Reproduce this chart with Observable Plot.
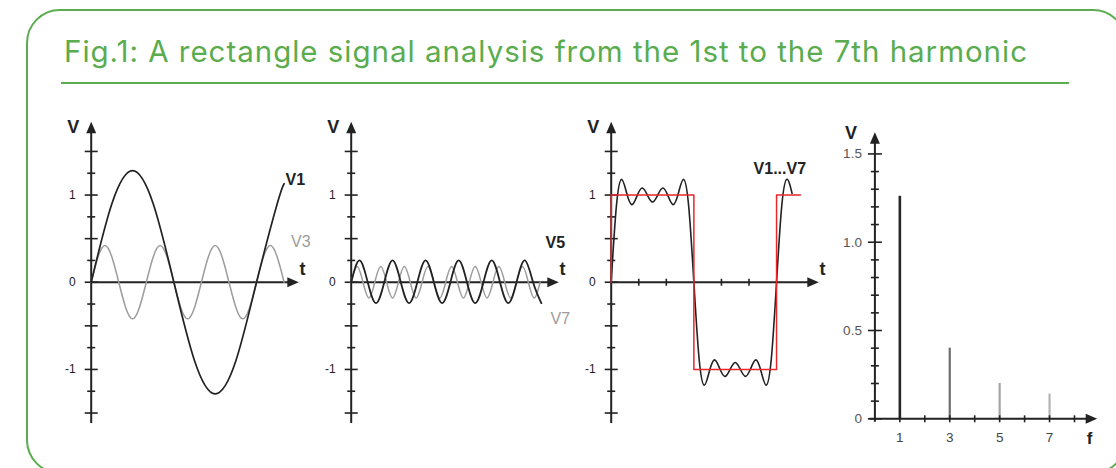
<!DOCTYPE html>
<html><head><meta charset="utf-8">
<script src="https://cdn.jsdelivr.net/npm/d3@7"></script>
<script src="https://cdn.jsdelivr.net/npm/@observablehq/plot@0.6"></script>
<style>
body{margin:0;background:#fff;}
#root{position:relative;width:1116px;height:468px;overflow:hidden;background:#fff;}
#frame{position:absolute;left:26px;top:9px;width:1097px;height:461px;border:2.5px solid #5aac4e;border-radius:34px;}
#title{position:absolute;left:64px;top:35px;font-family:Inter,sans-serif;font-weight:400;font-size:29.5px;line-height:32px;color:#5aac4e;white-space:nowrap;}
#rule{position:absolute;left:61px;top:81.5px;width:1008px;height:2.5px;background:#5aac4e;}
.panel{position:absolute;top:100px;}
</style></head>
<body>
<div id="root">
  <div id="frame"></div>
  <div id="title"></div>
  <div id="rule"></div>
  <div class="panel" id="p1" style="left:40px"></div>
  <div class="panel" id="p2" style="left:300px"></div>
  <div class="panel" id="p3" style="left:560px"></div>
  <div class="panel" id="p4" style="left:820px"></div>
</div>
<script>
// ---------- data (t in degrees of the fundamental) ----------
const titleText = "Fig.1: A rectangle signal analysis from the 1st to the 7th harmonic";

const v1T = [0, 45, 90, 135, 180, 225, 270, 315, 360, 405, 420];
const v1V = [0, 0.90, 1.28, 0.90, 0, -0.90, -1.28, -0.90, 0, 0.90, 1.13];

const v3T = [0, 30, 60, 90, 120, 150, 180, 210, 240, 270, 300, 330, 360, 390, 420];
const v3V = [0, 0.42, 0, -0.42, 0, 0.42, 0, -0.42, 0, 0.42, 0, -0.42, 0, 0.42, 0];

const v5T = [0, 18, 36, 54, 72, 90, 108, 126, 144, 162, 180, 198, 216, 234, 252, 270, 288, 306, 324, 342, 360, 378, 396, 414];
const v5V = [0, 0.25, 0, -0.24, 0, 0.25, 0, -0.24, 0, 0.25, 0, -0.24, 0, 0.25, 0, -0.24, 0, 0.25, 0, -0.24, 0, 0.25, 0, -0.24];

const v7T = [0, 12.9, 25.7, 38.6, 51.4, 64.3, 77.1, 90, 102.9, 115.7, 128.6, 141.4, 154.3, 167.1, 180, 192.9, 205.7, 218.6, 231.4, 244.3, 257.1, 270, 282.9, 295.7, 308.6, 321.4, 334.3, 347.1, 360, 372.9, 385.7, 398.6, 411.4];
const v7V = [0, 0.18, 0, -0.18, 0, 0.18, 0, -0.18, 0, 0.18, 0, -0.18, 0, 0.18, 0, -0.18, 0, 0.18, 0, -0.18, 0, 0.18, 0, -0.18, 0, 0.18, 0, -0.18, 0, 0.18, 0, -0.18, 0];

const sumT = [0, 11.25, 22.5, 33.75, 45, 56.25, 67.5, 78.75, 90, 101.25, 112.5, 123.75, 135, 146.25, 157.5, 168.75, 180,
  191.25, 202.5, 213.75, 225, 236.25, 247.5, 258.75, 270, 281.25, 292.5, 303.75, 315, 326.25, 337.5, 348.75, 360,
  371.25, 382.5, 393.75];
const sumV = [0, 0.87, 1.18, 1.02, 0.89, 0.99, 1.08, 1.00, 0.92, 1.00, 1.08, 0.99, 0.89, 1.02, 1.18, 0.87, 0,
  -0.87, -1.18, -1.02, -0.89, -0.99, -1.08, -1.00, -0.92, -1.00, -1.08, -0.99, -0.89, -1.02, -1.18, -0.87, 0,
  0.87, 1.18, 1.02];

const squareT = [0, 0, 180, 180, 360, 360, 412];
const squareV = [0, 1, 1, -1, -1, 1, 1];

const harmonics = [1, 3, 5, 7];
const amplitudes = [1.26, 0.40, 0.20, 0.14];

const waveTickLabels = [-1, 0, 1];
const waveMajorTicks = [-1.5, -1, -0.5, 0, 0.5, 1, 1.5];
const waveMinorTicks = [-1.25, -0.75, -0.25, 0.25, 0.75, 1.25];
const stepTicksX = [60, 120, 240, 300];
const specTickLabelsY = [0, 0.5, 1, 1.5];
const specMajorTicks = [0, 0.5, 1, 1.5];
const specMinorTicks = [0.1, 0.2, 0.3, 0.4, 0.6, 0.7, 0.8, 0.9, 1.1, 1.2, 1.3, 1.4];
const specTickLabelsX = [1, 3, 5, 7];
const specTicksX = [1, 2, 3, 4, 5, 6, 7, 8];

// ---------- helpers ----------
const zip = (T, V) => T.map((t, i) => ({t, v: V[i]}));
const FONT = '"Liberation Sans", Arial, sans-serif';
const INK = "#222";
const GRAY = "#9c9c9c";
const svgStyle = `background:transparent;overflow:visible;max-width:none;font-family:${FONT};`;
const hTick = len => ({draw(c) { c.moveTo(-len, 0); c.lineTo(len, 0); }});
const vTick = len => ({draw(c) { c.moveTo(0, -len); c.lineTo(0, len); }});
const arrowHead = {draw(c) { c.moveTo(0, 0); c.lineTo(-5, 11.5); c.lineTo(5, 11.5); c.closePath(); }};

// title fitted to the reference width
const titleEl = document.getElementById("title");
titleEl.textContent = titleText;
{
  const ctx = document.createElement("canvas").getContext("2d");
  ctx.font = "400 29.5px Inter";
  const w = ctx.measureText(titleText).width;
  titleEl.style.letterSpacing = ((963 - w) / (titleText.length - 1)) + "px";
}

const X_MAX = 452;
function waveFrame(extra) {
  return [
    Plot.ruleX([0], {y1: -1.62, y2: 1.75, stroke: INK, strokeWidth: 2}),
    Plot.ruleY([0], {x1: 0, x2: 440, stroke: INK, strokeWidth: 2}),
    Plot.dot([0], {x: 0, y: 1.84, symbol: arrowHead, fill: INK, stroke: "none"}),
    Plot.dot([0], {x: X_MAX, y: 0, symbol: arrowHead, rotate: 90, fill: INK, stroke: "none"}),
    Plot.dot(waveMajorTicks, {x: 0, y: d => d, symbol: hTick(6.5), stroke: INK, strokeWidth: 1.6, fill: "none"}),
    Plot.dot(waveMinorTicks, {x: 0, y: d => d, symbol: hTick(4), stroke: INK, strokeWidth: 1.6, fill: "none"}),
    Plot.axisY(waveTickLabels, {anchor: "left", tickSize: 0, tickPadding: 15.5, fontSize: 12, color: "#222", tickFormat: d => String(d), label: null}),
    Plot.text(["V"], {x: 0, y: 1.774, dx: -18, fontSize: 18, fontWeight: "bold", fill: INK}),
    Plot.text(["t"], {x: 460, y: 0.146, fontSize: 18, fontWeight: "bold", fill: INK}),
    ...extra
  ];
}
function wavePlot(marks) {
  return Plot.plot({
    width: 275, height: 340,
    marginLeft: 50.7, marginRight: 16.7, marginTop: 21.3, marginBottom: 17,
    x: {domain: [0, X_MAX], axis: null},
    y: {domain: [-1.62, 1.84]},
    style: svgStyle,
    marks: waveFrame(marks)
  });
}

// Panel 1: V1 and V3
document.getElementById("p1").append(wavePlot([
  Plot.line(zip(v3T, v3V), {x: "t", y: "v", curve: "natural", stroke: GRAY, strokeWidth: 1.5}),
  Plot.line(zip(v1T, v1V), {x: "t", y: "v", curve: "natural", stroke: INK, strokeWidth: 1.7}),
  Plot.text(["V1"], {x: 423, y: 1.178, textAnchor: "start", fontSize: 16, fontWeight: "bold", fill: INK}),
  Plot.text(["V3"], {x: 435, y: 0.467, textAnchor: "start", fontSize: 16, fill: GRAY})
]));

// Panel 2: V5 and V7
document.getElementById("p2").append(wavePlot([
  Plot.line(zip(v7T, v7V), {x: "t", y: "v", curve: "natural", stroke: GRAY, strokeWidth: 1.5}),
  Plot.line(zip(v5T, v5V), {x: "t", y: "v", curve: "natural", stroke: INK, strokeWidth: 1.8}),
  Plot.text(["V5"], {x: 423, y: 0.447, textAnchor: "start", fontSize: 16, fontWeight: "bold", fill: INK}),
  Plot.text(["V7"], {x: 434, y: -0.416, textAnchor: "start", fontSize: 16, fill: GRAY})
]));

// Panel 3: sum V1...V7 with ideal rectangle
document.getElementById("p3").append(wavePlot([
  Plot.dot(stepTicksX, {x: d => d, y: 0, symbol: vTick(3.5), stroke: INK, strokeWidth: 1.6, fill: "none"}),
  Plot.line(zip(sumT, sumV), {x: "t", y: "v", curve: "natural", stroke: INK, strokeWidth: 1.6}),
  Plot.line(zip(squareT, squareV), {x: "t", y: "v", stroke: "#e8262b", strokeWidth: 1.5}),
  Plot.text(["V1...V7"], {x: 310, y: 1.30, textAnchor: "start", fontSize: 16, fontWeight: "bold", fill: INK})
]));

// Panel 4: spectrum
const spectrum = harmonics.map((f, i) => ({f, v: amplitudes[i]}));
document.getElementById("p4").append(Plot.plot({
  width: 296, height: 350,
  marginLeft: 54.4, marginRight: 19.3, marginTop: 31.7, marginBottom: 31.7,
  x: {domain: [0, 8.91]},
  y: {domain: [0, 1.623]},
  color: {type: "ordinal", domain: harmonics, range: ["#262626", "#6e6e6e", "#a4a4a4", "#b4b4b4"]},
  style: svgStyle,
  marks: [
    Plot.ruleX(spectrum, {x: "f", y1: 0, y2: "v", stroke: "f", strokeWidth: d => d.f === 1 ? 2.6 : 2.2}),
    Plot.ruleY([0], {x1: -0.2, x2: 8.5, stroke: INK, strokeWidth: 2}),
    Plot.ruleX([0], {y1: -0.02, y2: 1.56, stroke: INK, strokeWidth: 2}),
    Plot.dot([0], {x: 0, y: 1.623, symbol: arrowHead, fill: INK, stroke: "none"}),
    Plot.dot([0], {x: 8.91, y: 0, symbol: arrowHead, rotate: 90, fill: INK, stroke: "none"}),
    Plot.dot(specMajorTicks, {x: 0, y: d => d, symbol: hTick(7), stroke: INK, strokeWidth: 1.6, fill: "none"}),
    Plot.dot(specMinorTicks, {x: 0, y: d => d, symbol: hTick(4), stroke: INK, strokeWidth: 1.6, fill: "none"}),
    Plot.dot(specTicksX, {x: d => d, y: 0, symbol: vTick(3.5), stroke: INK, strokeWidth: 1.6, fill: "none"}),
    Plot.axisY(specTickLabelsY, {anchor: "left", tickSize: 0, tickPadding: 13, fontSize: 13.5, color: "#555", label: null,
      tickFormat: d => d === 0 ? "0" : d.toFixed(1)}),
    Plot.axisX(specTickLabelsX, {anchor: "bottom", tickSize: 0, tickPadding: 14, fontSize: 13.5, color: "#444", label: null}),
    Plot.text(["V"], {x: 0, y: 1.615, dx: -24, fontSize: 18, fontWeight: "bold", fill: INK}),
    Plot.text(["f"], {x: 8.6, y: -0.11, fontSize: 17, fontWeight: "bold", fill: INK})
  ]
}));
</script>
</body></html>
